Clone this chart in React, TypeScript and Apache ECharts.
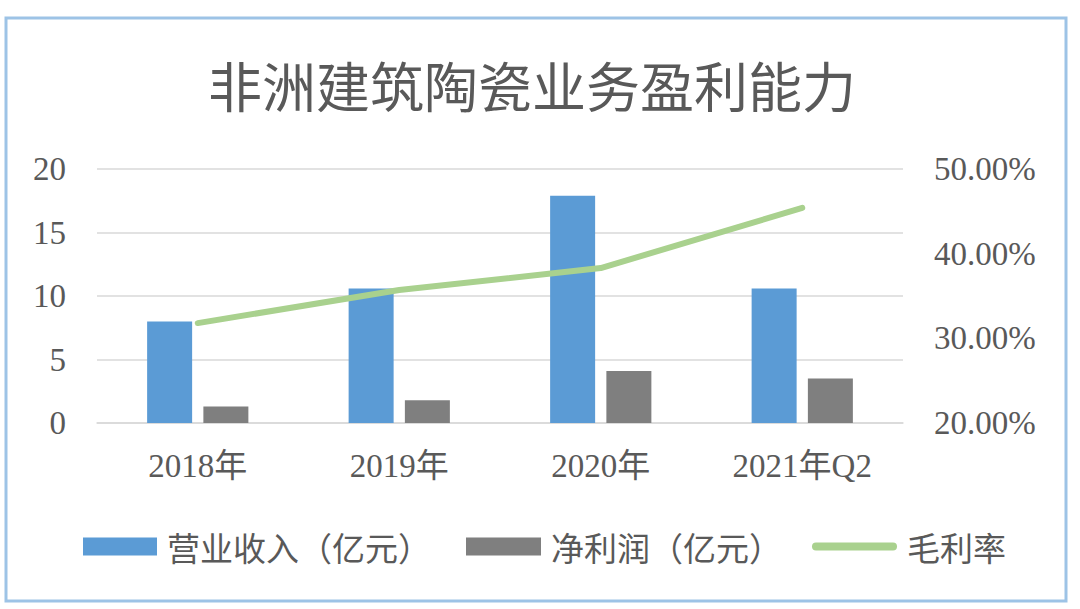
import React, { useEffect, useRef } from "react";
import * as echarts from "echarts";

const titleText = "非洲建筑陶瓷业务盈利能力";
const categories = ["2018年", "2019年", "2020年", "2021年Q2"];
const revenue = [8.0, 10.6, 17.9, 10.6];
const netProfit = [1.3, 1.8, 4.1, 3.5];
const grossMargin = [31.8, 35.7, 38.3, 45.4];
const seriesNames = ["营业收入（亿元）", "净利润（亿元）", "毛利率"];

const SERIF = "'Liberation Serif', 'Times New Roman', 'Noto Sans CJK SC', serif";
const SANS = "'Noto Sans CJK SC', 'Noto Sans', sans-serif";
const TXT = "#595959";

export default function App() {
  const ref = useRef<HTMLDivElement>(null);
  useEffect(() => {
    if (!ref.current) return;
    const chart = echarts.init(ref.current, null, { renderer: "svg" });
    const legendBase = {
      orient: "horizontal",
      top: 530,
      itemGap: 0,
      padding: 0,
      textStyle: { fontFamily: SANS, fontSize: 33, color: TXT, padding: [0, 0, 0, 5] },
    };
    chart.setOption({
      animation: false,
      backgroundColor: "#ffffff",
      graphic: [
        {
          type: "rect",
          shape: { x: 6, y: 18, width: 1060, height: 583 },
          style: { fill: "none", stroke: "#9DC3E6", lineWidth: 3 },
          silent: true,
        },
        {
          type: "text",
          x: 532,
          y: 84,
          style: {
            text: titleText,
            fontFamily: SANS,
            fontSize: 54,
            fill: TXT,
            align: "center",
            verticalAlign: "middle",
          },
        },
      ],
      legend: [
        {
          ...legendBase,
          left: 83,
          data: [{ name: seriesNames[0], icon: "rect" }],
          itemWidth: 74,
          itemHeight: 18,
        },
        {
          ...legendBase,
          left: 466,
          data: [{ name: seriesNames[1], icon: "rect" }],
          itemWidth: 75,
          itemHeight: 18,
        },
        {
          ...legendBase,
          left: 812,
          data: [
            {
              name: seriesNames[2],
              icon: "path://M4,0 H81 A4,4 0 0 1 81,8 H4 A4,4 0 0 1 4,0 Z",
            },
          ],
          itemWidth: 85,
          itemHeight: 8,
        },
      ],
      grid: { left: 97, right: 177, top: 169, bottom: 186, containLabel: false },
      xAxis: {
        type: "category",
        data: categories,
        axisTick: { show: false },
        axisLine: { show: true, lineStyle: { color: "#d9d9d9", width: 1.5 } },
        axisLabel: { fontFamily: SERIF, fontSize: 33, color: TXT, margin: 26 },
      },
      yAxis: [
        {
          type: "value",
          min: 0,
          max: 20,
          interval: 5,
          axisLine: { show: false },
          axisTick: { show: false },
          splitLine: { show: true, lineStyle: { color: "#d9d9d9", width: 1.5 } },
          axisLabel: { fontFamily: SERIF, fontSize: 33, color: TXT, margin: 31 },
        },
        {
          type: "value",
          min: 20,
          max: 50,
          interval: 10,
          axisLine: { show: false },
          axisTick: { show: false },
          splitLine: { show: false },
          axisLabel: {
            fontFamily: SERIF,
            fontSize: 33,
            color: TXT,
            margin: 31,
            formatter: (v: number) => v.toFixed(2) + "%",
          },
        },
      ],
      series: [
        {
          name: seriesNames[0],
          type: "bar",
          data: revenue,
          barWidth: 45,
          barGap: "25%",
          itemStyle: { color: "#5B9BD5" },
        },
        {
          name: seriesNames[1],
          type: "bar",
          data: netProfit,
          barWidth: 45,
          itemStyle: { color: "#7F7F7F" },
        },
        {
          name: seriesNames[2],
          type: "line",
          yAxisIndex: 1,
          data: grossMargin,
          symbol: "none",
          lineStyle: { color: "#A9D18E", width: 6, cap: "round", join: "round" },
          itemStyle: { color: "#A9D18E" },
        },
      ],
    });
    return () => chart.dispose();
  }, []);
  return (
    <div
      ref={ref}
      style={{ position: "fixed", left: 0, top: 0, width: 1080, height: 609, background: "#fff" }}
    />
  );
}
